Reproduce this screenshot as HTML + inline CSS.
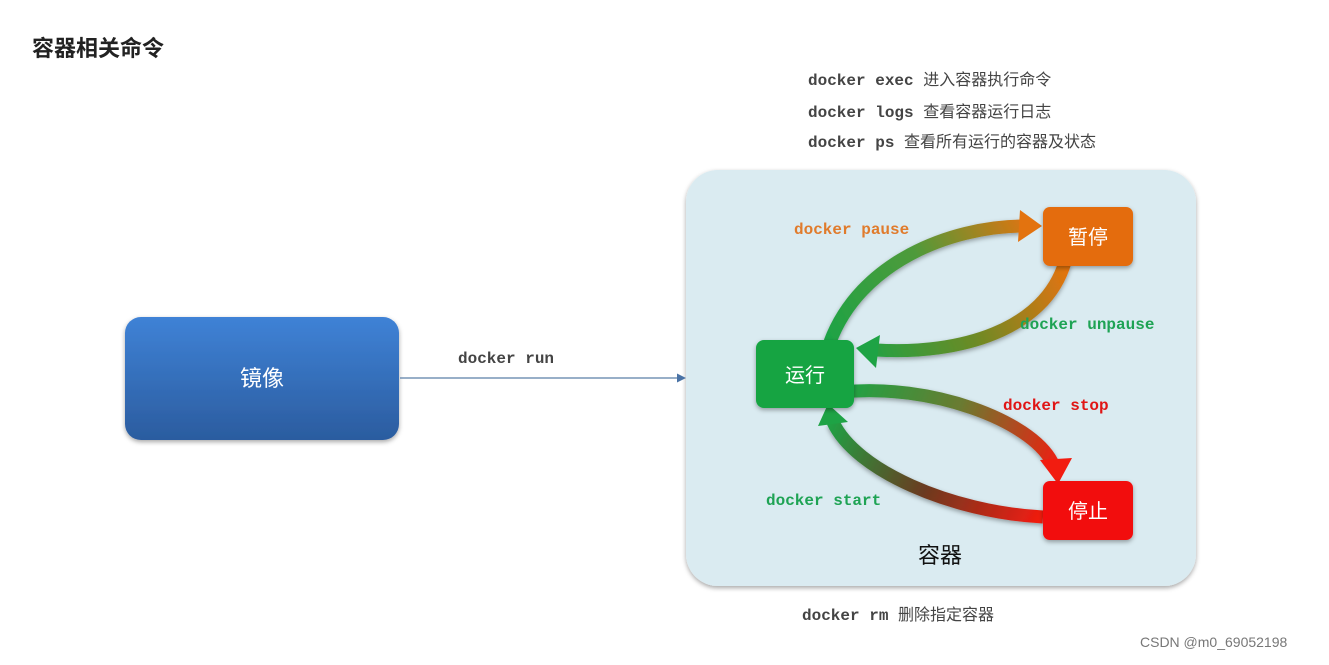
<!DOCTYPE html>
<html><head><meta charset="utf-8"><style>
body{margin:0;width:1329px;height:660px;background:#fff;overflow:hidden;font-family:"Liberation Sans","Noto Sans CJK SC",sans-serif}
</style></head><body>
<svg width="1329" height="660" xmlns="http://www.w3.org/2000/svg">
<defs>
<linearGradient id="blue" x1="0" y1="0" x2="0" y2="1"><stop offset="0" stop-color="#3f82d6"/><stop offset="1" stop-color="#2b5c9f"/></linearGradient>
<linearGradient id="gPause" gradientUnits="userSpaceOnUse" x1="830" y1="340" x2="1035" y2="226"><stop offset="0" stop-color="#1ea345"/><stop offset="0.5" stop-color="#4f9a3a"/><stop offset="1" stop-color="#e3730f"/></linearGradient>
<linearGradient id="gUnpause" gradientUnits="userSpaceOnUse" x1="1065" y1="265" x2="860" y2="352"><stop offset="0" stop-color="#e3730f"/><stop offset="0.5" stop-color="#6d8a25"/><stop offset="1" stop-color="#1ea345"/></linearGradient>
<linearGradient id="gStop" gradientUnits="userSpaceOnUse" x1="845" y1="392" x2="1060" y2="470"><stop offset="0" stop-color="#1ea345"/><stop offset="0.5" stop-color="#6b7a30"/><stop offset="1" stop-color="#f21c10"/></linearGradient>
<linearGradient id="gStart" gradientUnits="userSpaceOnUse" x1="1043" y1="515" x2="830" y2="415"><stop offset="0" stop-color="#f21c10"/><stop offset="0.5" stop-color="#6b3a20"/><stop offset="1" stop-color="#1ea345"/></linearGradient>
<filter id="sh" x="-20%" y="-20%" width="140%" height="140%"><feDropShadow dx="0" dy="2" stdDeviation="2.5" flood-opacity="0.35"/></filter>
</defs>
<text x="32" y="56" font-size="22" font-weight="bold" fill="#222" font-family="Noto Sans CJK SC,sans-serif">容器相关命令</text>
<g font-size="16" font-weight="bold" fill="#444" font-family="Liberation Mono,Noto Sans CJK SC,monospace">
<text x="808" y="85">docker exec <tspan font-weight="normal" font-family="Noto Sans CJK SC,sans-serif">进入容器执行命令</tspan></text>
<text x="808" y="117">docker logs <tspan font-weight="normal" font-family="Noto Sans CJK SC,sans-serif">查看容器运行日志</tspan></text>
<text x="808" y="147">docker ps <tspan font-weight="normal" font-family="Noto Sans CJK SC,sans-serif">查看所有运行的容器及状态</tspan></text>
<text x="802" y="620">docker rm <tspan font-weight="normal" font-family="Noto Sans CJK SC,sans-serif">删除指定容器</tspan></text>
<text x="458" y="363">docker run</text>
</g>
<rect x="686" y="170" width="510" height="416" rx="32" fill="#daebf1" filter="url(#sh)"/>
<rect x="125" y="317" width="274" height="123" rx="16" fill="url(#blue)" filter="url(#sh)"/>
<text x="262" y="386" font-size="22" fill="#fff" text-anchor="middle">镜像</text>
<line x1="400" y1="378" x2="680" y2="378" stroke="#5a7fa8" stroke-width="1.3"/>
<polygon points="686,378 677,373.5 677,382.5" fill="#4a73a6"/>
<g fill="none" stroke-width="13" filter="url(#sh)">
<path d="M830,342 C860,262 950,227 1022,226" stroke="url(#gPause)"/>
<path d="M1065,262 C1045,330 960,355 876,350" stroke="url(#gUnpause)"/>
<path d="M842,392 C930,383 1030,420 1052,462" stroke="url(#gStop)"/>
<path d="M1043,517 C950,512 855,470 833,422" stroke="url(#gStart)"/>
</g>
<polygon points="1042,226 1020,210 1018,242" fill="#e3730f"/>
<polygon points="856,348 880,335 876,368" fill="#1ea345"/>
<polygon points="1058,484 1040,460 1072,458" fill="#f21c10"/>
<polygon points="828,404 818,426 848,422" fill="#1ea345"/>
<rect x="756" y="340" width="98" height="68" rx="8" fill="#13a442" filter="url(#sh)"/>
<text x="805" y="382" font-size="20" fill="#fff" text-anchor="middle">运行</text>
<rect x="1043" y="207" width="90" height="59" rx="7" fill="#e46c0a" filter="url(#sh)"/>
<text x="1088" y="244" font-size="20" fill="#fff" text-anchor="middle">暂停</text>
<rect x="1043" y="481" width="90" height="59" rx="7" fill="#f20d0d" filter="url(#sh)"/>
<text x="1088" y="518" font-size="20" fill="#fff" text-anchor="middle">停止</text>
<text x="940" y="563" font-size="22" fill="#111" text-anchor="middle">容器</text>
<g font-size="16" font-weight="bold" font-family="Liberation Mono,monospace">
<text x="794" y="234" fill="#e07b2c">docker pause</text>
<text x="1020" y="329" fill="#1ea354">docker unpause</text>
<text x="1003" y="410" fill="#e01515">docker stop</text>
<text x="766" y="505" fill="#1ea354">docker start</text>
</g>
<text x="1140" y="647" font-size="14" fill="#777">CSDN @m0_69052198</text>
</svg>
</body></html>
